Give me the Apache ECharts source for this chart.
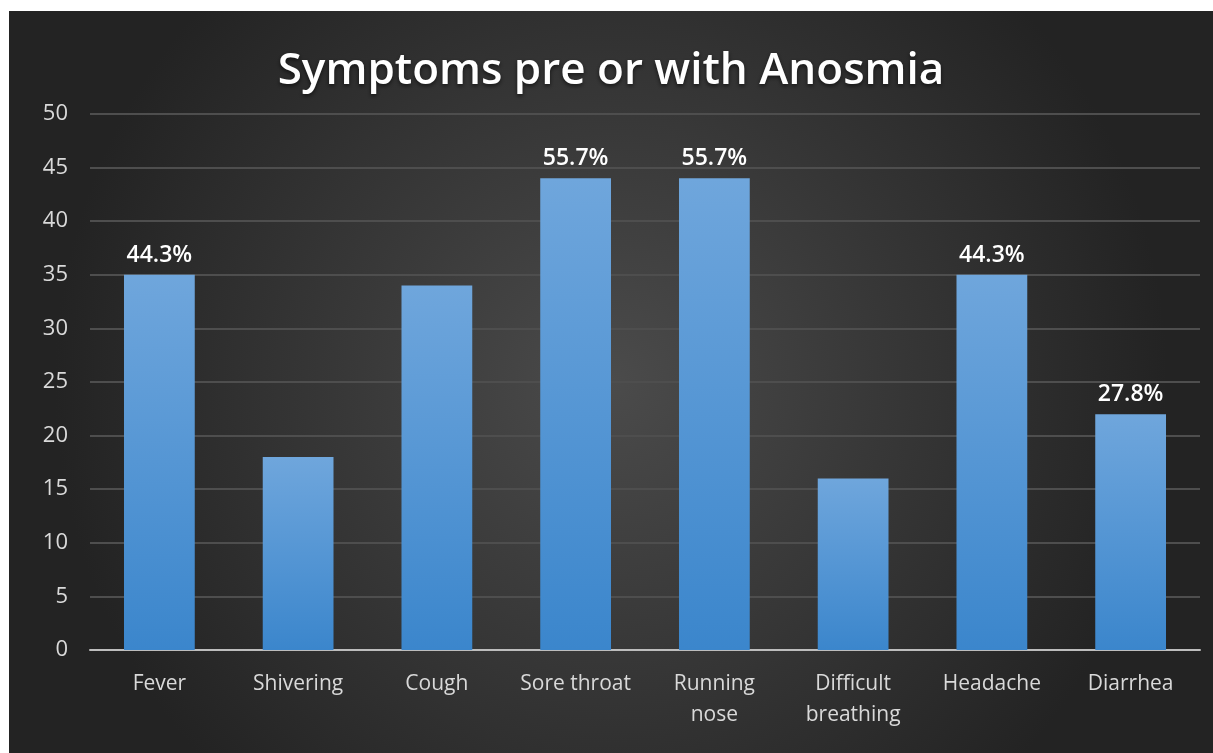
<!DOCTYPE html>
<html>
<head>
<meta charset="utf-8">
<script src="https://cdn.jsdelivr.net/npm/echarts@6/dist/echarts.min.js"></script>
<style>
  html, body { margin: 0; padding: 0; background: #ffffff; }
  #chart { position: absolute; left: 9px; top: 11px; width: 1204px; height: 742px; }
</style>
</head>
<body>
<div id="chart"></div>
<script>
// symptom categories and counts
const categories = ['Fever', 'Shivering', 'Cough', 'Sore throat', 'Running\nnose', 'Difficult\nbreathing', 'Headache', 'Diarrhea'];
const counts = [35, 18, 34, 44, 44, 16, 35, 22];
const percentLabels = ['44.3%', '', '', '55.7%', '55.7%', '', '44.3%', '27.8%'];
const yTicks = [0, 5, 10, 15, 20, 25, 30, 35, 40, 45, 50];

const chart = echarts.init(document.getElementById('chart'));
const option = {
  backgroundColor: {
    type: 'radial',
    x: 0.5, y: 0.5, r: 0.75,
    colorStops: [
      { offset: 0, color: '#4b4b4b' },
      { offset: 1, color: '#232323' }
    ]
  },
  title: {
    text: 'Symptoms pre or with Anosmia',
    left: 'center',
    top: 33,
    textStyle: {
      color: '#ffffff',
      fontFamily: 'Open Sans',
      fontWeight: 600,
      fontSize: 44,
      textShadowColor: 'rgba(0,0,0,0.6)',
      textShadowBlur: 4,
      textShadowOffsetY: 2
    }
  },
  grid: { left: 81, right: 13, top: 103, bottom: 103 },
  xAxis: {
    type: 'category',
    data: categories,
    axisLine: { lineStyle: { color: '#bdbdbd', width: 2 } },
    axisTick: { show: false },
    axisLabel: {
      color: '#d9d9d9',
      fontFamily: 'Open Sans',
      fontSize: 21,
      lineHeight: 31,
      margin: 19,
      interval: 0
    }
  },
  yAxis: {
    type: 'value',
    min: yTicks[0],
    max: yTicks[yTicks.length - 1],
    interval: 5,
    axisLine: { show: false },
    axisTick: { show: false },
    splitLine: { lineStyle: { color: '#4e4e4e', width: 2 } },
    axisLabel: {
      color: '#d9d9d9',
      fontFamily: 'Open Sans',
      fontSize: 22,
      margin: 22
    }
  },
  series: [
    {
      type: 'bar',
      data: counts,
      barWidth: '51%',
      itemStyle: {
        color: new echarts.graphic.LinearGradient(0, 0, 0, 1, [
          { offset: 0, color: '#6fa6dc' },
          { offset: 1, color: '#3b86cc' }
        ])
      },
      label: {
        show: true,
        position: 'top',
        distance: 8,
        color: '#ffffff',
        fontFamily: 'Open Sans',
        fontWeight: 600,
        fontSize: 23,
        formatter: function (p) { return percentLabels[p.dataIndex]; }
      }
    }
  ]
};
chart.setOption(option);
</script>
</body>
</html>
